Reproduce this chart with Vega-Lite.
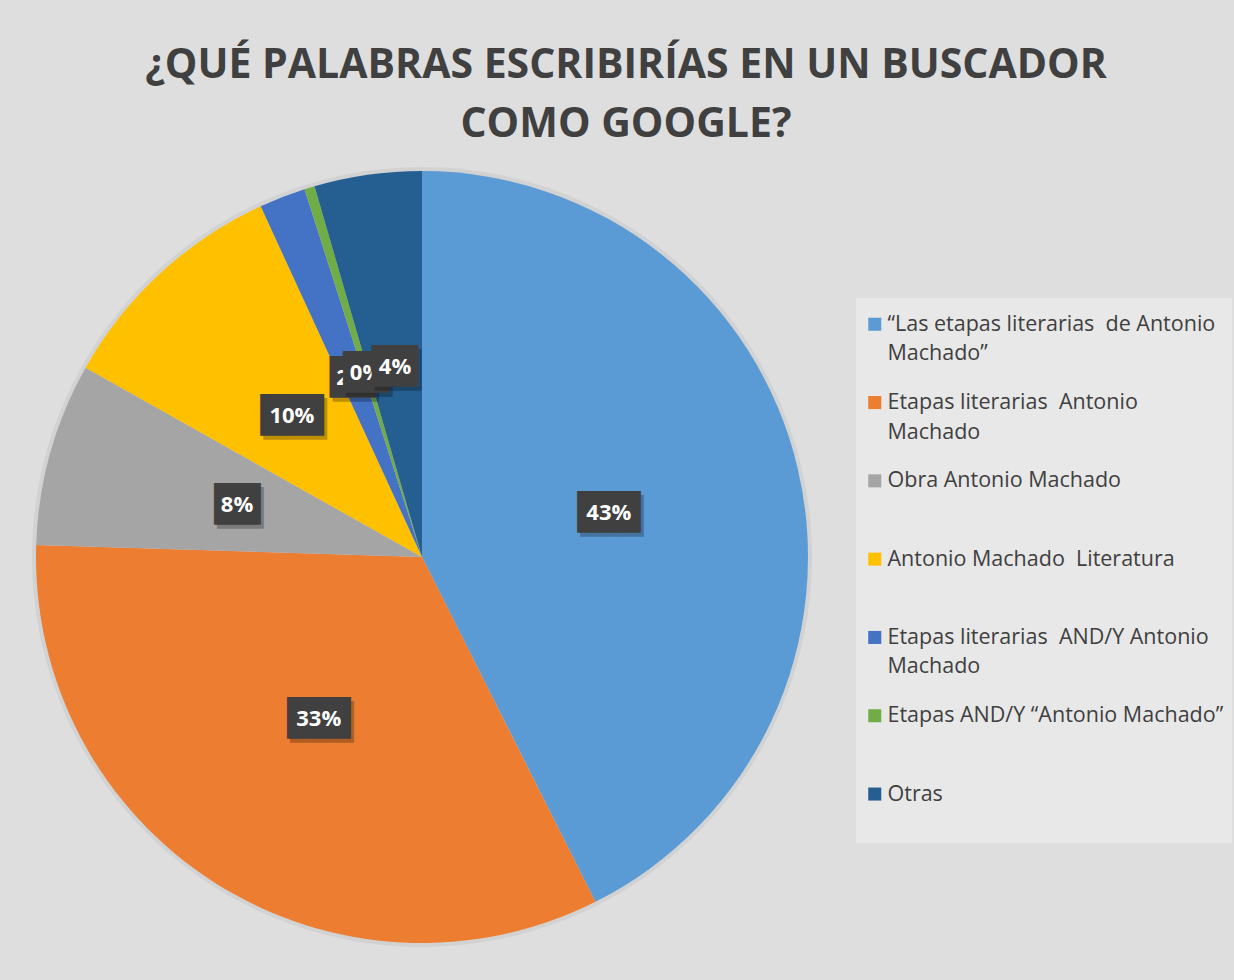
{
  "$schema": "https://vega.github.io/schema/vega-lite/v6.json",
  "width": 844,
  "height": 772,
  "autosize": "none",
  "padding": {"left": 0, "top": 171, "right": 390, "bottom": 37},
  "background": "#dedede",
  "title": {
    "text": ["¿QUÉ PALABRAS ESCRIBIRÍAS EN UN BUSCADOR", "COMO GOOGLE?"],
    "font": "Open Sans",
    "fontSize": 41,
    "fontWeight": "bold",
    "color": "#404040",
    "lineHeight": 59,
    "anchor": "middle",
    "frame": "bounds",
    "baseline": "top",
    "offset": 21,
    "dx": 10
  },
  "data": {
    "values": [
      {"n": 1, "cat": "“Las etapas literarias  de Antonio Machado”", "v": 0.4258},
      {"n": 2, "cat": "Etapas literarias  Antonio Machado", "v": 0.3291},
      {"n": 3, "cat": "Obra Antonio Machado", "v": 0.0766},
      {"n": 4, "cat": "Antonio Machado  Literatura", "v": 0.0998},
      {"n": 5, "cat": "Etapas literarias  AND/Y Antonio Machado", "v": 0.0194},
      {"n": 6, "cat": "Etapas AND/Y “Antonio Machado”", "v": 0.0043},
      {"n": 7, "cat": "Otras", "v": 0.0449}
    ]
  },
  "encoding": {
    "theta": {"field": "v", "type": "quantitative", "stack": true},
    "order": {"field": "n", "type": "quantitative"}
  },
  "layer": [
    {
      "mark": {"type": "arc", "outerRadius": 390, "color": "#000000", "opacity": 0.05}
    },
    {
      "mark": {"type": "arc"},
      "encoding": {
        "color": {
          "field": "cat",
          "type": "nominal",
          "scale": {
            "domain": [
              "“Las etapas literarias  de Antonio Machado”",
              "Etapas literarias  Antonio Machado",
              "Obra Antonio Machado",
              "Antonio Machado  Literatura",
              "Etapas literarias  AND/Y Antonio Machado",
              "Etapas AND/Y “Antonio Machado”",
              "Otras"
            ],
            "range": ["#5B9BD5", "#ED7D31", "#A5A5A5", "#FFC000", "#4472C4", "#70AD47", "#255E91"]
          },
          "legend": {
            "orient": "none",
            "legendX": 856,
            "legendY": 127,
            "title": " ",
            "titleFontSize": 7,
            "titlePadding": 0.5,
            "symbolType": "square",
            "symbolSize": 170,
            "symbolStrokeWidth": 0,
            "symbolOpacity": 1,
            "labelFont": "Open Sans",
            "labelFontSize": 21.5,
            "labelColor": "#404040",
            "labelLimit": 400,
            "labelOffset": 2,
            "labelBaseline": "top",
            "labelExpr": "length(datum.label) > 30 ? [replace(slice(datum.label, 0, lastindexof(datum.label, ' ')), '  ', '\u00a0 '), slice(datum.label, lastindexof(datum.label, ' ') + 1)] : [replace(datum.label, '  ', '\u00a0 '), ' ']",
            "rowPadding": 26.3,
            "padding": 8,
            "fillColor": "rgba(255,255,255,0.3)",
            "encode": {
              "labels": {"update": {"dy": {"value": -10.5}, "lineHeight": {"value": 29.5}}}
            }
          }
        }
      }
    },
    {
      "mark": {"type": "text", "radius": 192, "font": "DejaVu Sans Mono", "fontSize": 35, "color": "#000000", "dx": 3, "dy": 4},
      "encoding": {
        "text": {"condition": {"test": "datum.v >= 0.095", "value": "███"}, "value": "▕██▏"},
        "opacity": {"condition": {"test": "datum.n <= 4", "value": 0.25}, "value": 0}
      }
    },
    {
      "mark": {"type": "text", "radius": 192, "font": "DejaVu Sans Mono", "fontSize": 35, "color": "#404040"},
      "encoding": {
        "text": {"condition": {"test": "datum.v >= 0.095", "value": "███"}, "value": "▕██▏"},
        "opacity": {"condition": {"test": "datum.n <= 4", "value": 1}, "value": 0}
      }
    },
    {
      "mark": {"type": "text", "radius": 192, "font": "Open Sans", "fontSize": 22, "fontWeight": "bold", "color": "#ffffff"},
      "encoding": {
        "text": {"field": "v", "type": "quantitative", "format": ".0%"},
        "opacity": {"condition": {"test": "datum.n <= 4", "value": 1}, "value": 0}
      }
    },
    {
      "mark": {"type": "text", "radius": 192, "font": "DejaVu Sans Mono", "fontSize": 35, "color": "#000000", "dx": 3, "dy": 4},
      "encoding": {
        "text": {"value": "▕██▏"},
        "opacity": {"condition": {"test": "datum.n == 5", "value": 0.25}, "value": 0}
      }
    },
    {
      "mark": {"type": "text", "radius": 192, "font": "DejaVu Sans Mono", "fontSize": 35, "color": "#404040"},
      "encoding": {
        "text": {"value": "▕██▏"},
        "opacity": {"condition": {"test": "datum.n == 5", "value": 1}, "value": 0}
      }
    },
    {
      "mark": {"type": "text", "radius": 192, "font": "Open Sans", "fontSize": 22, "fontWeight": "bold", "color": "#ffffff"},
      "encoding": {
        "text": {"field": "v", "type": "quantitative", "format": ".0%"},
        "opacity": {"condition": {"test": "datum.n == 5", "value": 1}, "value": 0}
      }
    },
    {
      "mark": {"type": "text", "radius": 192, "font": "DejaVu Sans Mono", "fontSize": 35, "color": "#000000", "dx": 3, "dy": 4},
      "encoding": {
        "text": {"value": "▕██▏"},
        "opacity": {"condition": {"test": "datum.n == 6", "value": 0.25}, "value": 0}
      }
    },
    {
      "mark": {"type": "text", "radius": 192, "font": "DejaVu Sans Mono", "fontSize": 35, "color": "#404040"},
      "encoding": {
        "text": {"value": "▕██▏"},
        "opacity": {"condition": {"test": "datum.n == 6", "value": 1}, "value": 0}
      }
    },
    {
      "mark": {"type": "text", "radius": 192, "font": "Open Sans", "fontSize": 22, "fontWeight": "bold", "color": "#ffffff"},
      "encoding": {
        "text": {"field": "v", "type": "quantitative", "format": ".0%"},
        "opacity": {"condition": {"test": "datum.n == 6", "value": 1}, "value": 0}
      }
    },
    {
      "mark": {"type": "text", "radius": 192, "font": "DejaVu Sans Mono", "fontSize": 35, "color": "#000000", "dx": 3, "dy": 4},
      "encoding": {
        "text": {"value": "▕██▏"},
        "opacity": {"condition": {"test": "datum.n == 7", "value": 0.25}, "value": 0}
      }
    },
    {
      "mark": {"type": "text", "radius": 192, "font": "DejaVu Sans Mono", "fontSize": 35, "color": "#404040"},
      "encoding": {
        "text": {"value": "▕██▏"},
        "opacity": {"condition": {"test": "datum.n == 7", "value": 1}, "value": 0}
      }
    },
    {
      "mark": {"type": "text", "radius": 192, "font": "Open Sans", "fontSize": 22, "fontWeight": "bold", "color": "#ffffff"},
      "encoding": {
        "text": {"field": "v", "type": "quantitative", "format": ".0%"},
        "opacity": {"condition": {"test": "datum.n == 7", "value": 1}, "value": 0}
      }
    }
  ],
  "config": {"view": {"stroke": null}}
}
